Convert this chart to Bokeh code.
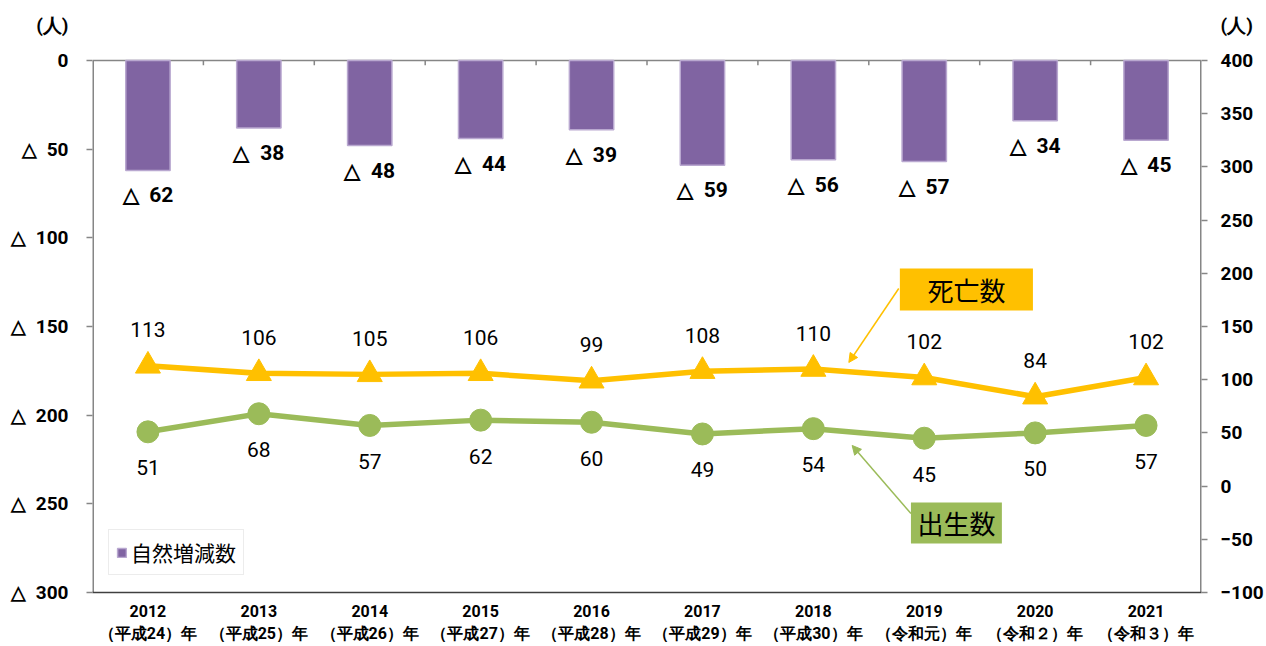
from bokeh.plotting import figure
from bokeh.models import (Range1d, LinearAxis, FixedTicker, ColumnDataSource, LabelSet,
                          Label, BoxAnnotation, Arrow, NormalHead, Legend, LegendItem)
from bokeh.core.properties import value
from bokeh.embed import file_html
from bokeh.resources import INLINE

years = ["2012", "2013", "2014", "2015", "2016", "2017", "2018", "2019", "2020", "2021"]
eras = ["（平成24）年", "（平成25）年", "（平成26）年", "（平成27）年", "（平成28）年",
        "（平成29）年", "（平成30）年", "（令和元）年", "（令和２）年", "（令和３）年"]
natural = [-62, -38, -48, -44, -39, -59, -56, -57, -34, -45]
deaths = [113, 106, 105, 106, 99, 108, 110, 102, 84, 102]
births = [51, 68, 57, 62, 60, 49, 54, 45, 50, 57]
left_ticks = [-300, -250, -200, -150, -100, -50, 0]
right_ticks = [-100, -50, 0, 50, 100, 150, 200, 250, 300, 350, 400]
unit = "(人)"

NUM = "Roboto"
JP = "Noto Sans CJK JP"
PURPLE = "#8064A2"
GOLD = "#FFC000"
GREEN = "#9BBB59"
GREY = "#868686"
TRI = "△\u2002"

# value ranges of the two axes (frame extends above the zero line to hold the unit labels)
L_MIN, L_MAX, L_TOP = -300, 0, 27.07
R_MIN, R_MAX, R_TOP = -100, 400, 445.1
L_UNIT, R_UNIT = 20, 433

xs = list(range(len(years)))
src = ColumnDataSource(dict(
    x=xs, nat=natural, deaths=deaths, births=births,
    nat_lbl=[TRI + str(-v) for v in natural],
    d_lbl=[str(v) for v in deaths],
    b_lbl=[str(v) for v in births],
))

p = figure(width=1266, height=646, x_range=Range1d(-0.5, 9.5), y_range=Range1d(R_MIN, R_TOP),
           output_backend="svg", toolbar_location=None, x_axis_location=None,
           y_axis_location=None, min_border_left=92, min_border_right=62,
           min_border_top=12, min_border_bottom=54)
p.extra_y_ranges = {"left": Range1d(L_MIN, L_TOP)}
p.outline_line_color = None
p.xgrid.visible = False
p.ygrid.visible = False
p.background_fill_color = "white"

# left axis
lover = {t: ("0" if t == 0 else TRI + str(-t)) for t in left_ticks}
lover[L_UNIT] = unit
la = LinearAxis(y_range_name="left",
                ticker=FixedTicker(ticks=left_ticks + [L_UNIT], minor_ticks=left_ticks),
                major_label_overrides=lover)
# right axis
ra = LinearAxis(ticker=FixedTicker(ticks=right_ticks + [R_UNIT], minor_ticks=right_ticks),
                major_label_overrides={R_UNIT: unit})
for ax in (la, ra):
    ax.axis_line_color = None
    ax.major_tick_line_color = None
    ax.major_tick_out = 2
    ax.minor_tick_line_color = GREY
    ax.minor_tick_line_width = 1.5
    ax.minor_tick_out = 6
    ax.minor_tick_in = 0
    ax.major_label_text_font = NUM
    ax.major_label_text_font_style = "bold"
    ax.major_label_text_font_size = "19px"
    ax.major_label_text_color = "black"
la.major_label_standoff = 18
ra.major_label_standoff = 13
p.add_layout(la, "left")
p.add_layout(ra, "right")

# vertical axis lines (only over the value span)
p.segment(x0=[-0.5, 9.5], y0=[R_MIN, R_MIN], x1=[-0.5, 9.5], y1=[R_MAX, R_MAX],
          line_color=GREY, line_width=3)

# bottom axis (category labels)
ba = LinearAxis(ticker=FixedTicker(ticks=xs),
                major_label_overrides={i: years[i] + "\n" + eras[i] for i in xs})
ba.axis_line_color = "#404040"
ba.axis_line_width = 1.5
ba.major_tick_line_color = None
ba.minor_tick_line_color = None
ba.major_label_text_font = NUM
ba.major_label_text_font_style = "bold"
ba.major_label_text_font_size = "16px"
ba.major_label_text_color = "black"
ba.major_label_standoff = 3
p.add_layout(ba, "below")

# zero line at top with boundary ticks
p.line(x=[-0.5, 9.5], y=[R_MAX, R_MAX], line_color=GREY, line_width=1.5)
p.segment(x0=[i + 0.5 for i in xs[:-1]], y0=[R_MAX] * 9, x1=[i + 0.5 for i in xs[:-1]],
          y1=[R_MAX - 4.5] * 9, line_color=GREY, line_width=1.5)

bars = p.vbar(x="x", top=0, bottom="nat", width=0.4, source=src, y_range_name="left",
              fill_color=PURPLE, line_color="#B9A8D0", line_width=1.5)

p.line("x", "deaths", source=src, line_color=GOLD, line_width=5.5)
p.scatter("x", "deaths", source=src, marker="triangle", size=25, fill_color=GOLD,
          line_color=GOLD)
p.line("x", "births", source=src, line_color=GREEN, line_width=5.5)
p.scatter("x", "births", source=src, marker="circle", size=22, fill_color=GREEN,
          line_color=GREEN)

common = dict(text_font=value(NUM), text_font_size="21px", text_align="center",
              text_baseline="middle", text_color="black")
p.add_layout(LabelSet(x="x", y="nat", text="nat_lbl", source=src, y_range_name="left",
                      y_offset=-25, text_font_style="bold", **common))
p.add_layout(LabelSet(x="x", y="deaths", text="d_lbl", source=src, y_offset=36, **common))
p.add_layout(LabelSet(x="x", y="births", text="b_lbl", source=src, y_offset=-36, **common))

# callouts
p.add_layout(BoxAnnotation(left=6.78, right=7.98, bottom=165, top=204.5, fill_color=GOLD,
                           fill_alpha=1, line_color=None))
p.add_layout(Label(x=7.38, y=184.7, text="死亡数", text_font=JP, text_font_size="26px",
                   text_align="center", text_baseline="middle", text_color="black"))
p.add_layout(Arrow(x_start=6.77, y_start=185.7, x_end=6.32, y_end=116.2,
                   line_color=GOLD, line_width=1.5,
                   end=NormalHead(size=9, fill_color=GOLD, line_color=GOLD)))

p.add_layout(BoxAnnotation(left=6.88, right=7.70, bottom=-53.9, top=-15.4, fill_color=GREEN,
                           fill_alpha=1, line_color=None))
p.add_layout(Label(x=7.29, y=-34.6, text="出生数", text_font=JP, text_font_size="26px",
                   text_align="center", text_baseline="middle", text_color="black"))
p.add_layout(Arrow(x_start=6.88, y_start=-25.8, x_end=6.35, y_end=38.2,
                   line_color=GREEN, line_width=1.5,
                   end=NormalHead(size=9, fill_color=GREEN, line_color=GREEN)))

legend = Legend(items=[LegendItem(label="自然増減数", renderers=[bars])], location=(16, 17))
legend.label_text_font = JP
legend.label_text_font_size = "21px"
legend.label_text_color = "black"
legend.glyph_width = 11
legend.glyph_height = 11
legend.padding = 7
legend.margin = 0
legend.label_standoff = 4
legend.border_line_color = "#d9d9d9"
legend.border_line_width = 1.5
legend.background_fill_alpha = 1
p.add_layout(legend, "center")

open("out.html", "w").write(file_html(p, INLINE))
